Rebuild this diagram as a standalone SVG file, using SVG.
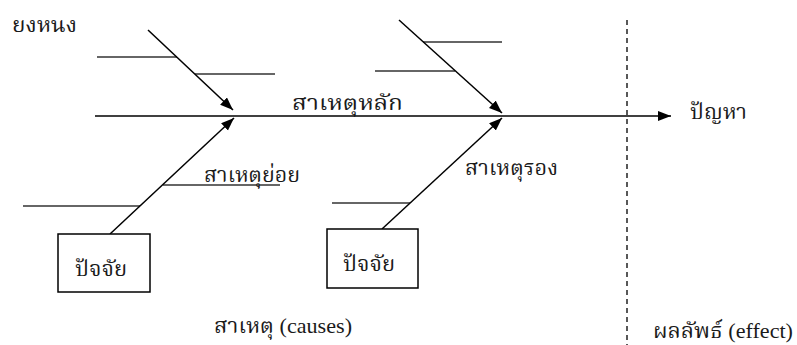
<svg xmlns="http://www.w3.org/2000/svg" width="797" height="345" viewBox="0 0 797 345">
<defs>
<marker id="ah" markerUnits="userSpaceOnUse" markerWidth="14" markerHeight="12" refX="13" refY="5" orient="auto">
<path d="M0,0 L13,5 L0,10 Z" fill="#000"/>
</marker>
<style>
.t{font-family:"Liberation Serif","Noto Serif Thai","Noto Sans Thai","Noto Sans",serif;font-size:22px;fill:#1a1a1a}
.h{stroke:#333;stroke-width:1.5;fill:none}
.d{stroke:#000;stroke-width:1.5;fill:none}
.box{stroke:#000;stroke-width:1.5;fill:#fff}
</style>
</defs>
<rect width="797" height="345" fill="#fff"/>
<g id="connectors">
<line class="d" x1="95" y1="116" x2="671" y2="116" marker-end="url(#ah)"/>
<line class="h" x1="97" y1="57" x2="177" y2="57"/>
<line class="h" x1="195" y1="74" x2="275" y2="74"/>
<line class="d" x1="148" y1="30" x2="233" y2="110" marker-end="url(#ah)"/>
<line class="h" x1="423" y1="42" x2="502" y2="42"/>
<line class="h" x1="375" y1="71" x2="455" y2="71"/>
<line class="d" x1="399" y1="20" x2="502" y2="113" marker-end="url(#ah)"/>
<line class="h" x1="163" y1="185" x2="280" y2="185"/>
<line class="h" x1="23" y1="206" x2="140" y2="206"/>
<line class="d" x1="110" y1="234" x2="234" y2="118" marker-end="url(#ah)"/>
<line class="h" x1="332" y1="203" x2="410" y2="203"/>
<line class="d" x1="382" y1="229" x2="502" y2="118" marker-end="url(#ah)"/>
<line x1="627" y1="20" x2="627" y2="345" stroke="#222" stroke-width="1.5" stroke-dasharray="5,4"/>
</g>
<g id="box1">
<rect class="box" x="58" y="234" width="92" height="58"/>
<text class="t" x="75" y="276" textLength="52" lengthAdjust="spacingAndGlyphs">ปัจจัย</text>
</g>
<g id="box2">
<rect class="box" x="327" y="229" width="91" height="59"/>
<text class="t" x="343" y="271" textLength="52" lengthAdjust="spacingAndGlyphs">ปัจจัย</text>
</g>
<g id="labels">
<text class="t" x="12" y="32" textLength="65" lengthAdjust="spacingAndGlyphs">ยงหนง</text>
<text class="t" x="292" y="110" textLength="111" lengthAdjust="spacingAndGlyphs">สาเหตุหลัก</text>
<text class="t" x="690" y="119" textLength="57" lengthAdjust="spacingAndGlyphs">ปัญหา</text>
<text class="t" x="204" y="182" textLength="96" lengthAdjust="spacingAndGlyphs">สาเหตุย่อย</text>
<text class="t" x="465" y="175" textLength="93" lengthAdjust="spacingAndGlyphs">สาเหตุรอง</text>
<text class="t" x="214" y="333" textLength="138" lengthAdjust="spacingAndGlyphs">สาเหตุ (causes)</text>
<text class="t" x="653" y="338" textLength="140" lengthAdjust="spacingAndGlyphs">ผลลัพธ์ (effect)</text>
</g>
</svg>
